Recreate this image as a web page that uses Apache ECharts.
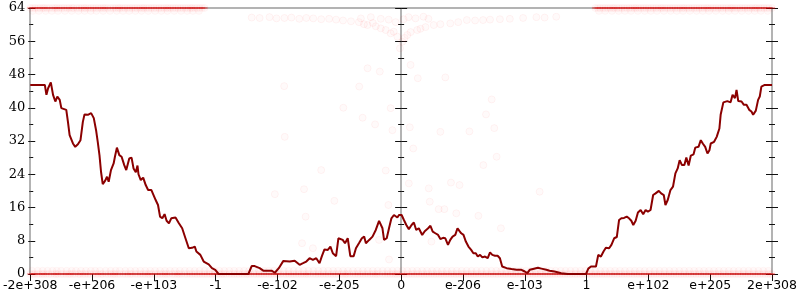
<!DOCTYPE html>
<html><head><meta charset="utf-8">
<script src="https://cdn.jsdelivr.net/npm/echarts@6/dist/echarts.min.js"></script>
<style>html,body{margin:0;padding:0;background:#fff}#c{width:800px;height:300px}</style>
</head><body><div id="c"></div>
<script>
// Tick labels of the custom float64 x axis (one per integer position -6..6)
const xTickLabels = ['-2e+308','-e+206','-e+103','-1','-e-102','-e-205','0','e-206','e-103','1','e+102','e+205','2e+308'];

// Dark red running line
const lineX = [-6,-5.764,-5.738,-5.711,-5.667,-5.631,-5.594,-5.562,-5.523,-5.497,-5.47,-5.417,-5.39,-5.363,-5.337,-5.309,-5.272,-5.229,-5.187,-5.149,-5.122,-5.068,-5.015,-4.972,-4.935,-4.908,-4.88,-4.855,-4.827,-4.79,-4.758,-4.731,-4.694,-4.651,-4.63,-4.598,-4.559,-4.522,-4.479,-4.447,-4.398,-4.361,-4.329,-4.292,-4.265,-4.249,-4.212,-4.173,-4.132,-4.093,-4.04,-3.971,-3.933,-3.9,-3.863,-3.827,-3.794,-3.756,-3.719,-3.65,-3.595,-3.542,-3.489,-3.435,-3.382,-3.338,-3.312,-3.248,-3.194,-3.113,-3.06,-3.007,-2.953,-2.471,-2.418,-2.369,-2.289,-2.23,-2.096,-2.043,-1.979,-1.908,-1.802,-1.722,-1.642,-1.587,-1.534,-1.481,-1.427,-1.373,-1.32,-1.282,-1.24,-1.186,-1.144,-1.105,-1.052,-1.015,-0.945,-0.908,-0.864,-0.822,-0.768,-0.731,-0.678,-0.635,-0.598,-0.57,-0.517,-0.463,-0.41,-0.357,-0.302,-0.276,-0.233,-0.196,-0.157,-0.116,-0.061,-0.035,0.008,0.045,0.084,0.125,0.169,0.206,0.244,0.286,0.341,0.382,0.437,0.474,0.511,0.554,0.598,0.635,0.678,0.715,0.758,0.795,0.832,0.876,0.912,0.945,0.972,1.009,1.047,1.089,1.133,1.169,1.208,1.24,1.277,1.314,1.357,1.401,1.438,1.475,1.518,1.561,1.598,1.635,1.706,1.786,1.867,1.947,2.0,2.043,2.08,2.133,2.214,2.268,2.349,2.402,2.482,2.59,2.696,2.991,3.028,3.071,3.152,3.189,3.232,3.274,3.312,3.365,3.402,3.446,3.489,3.526,3.563,3.606,3.65,3.687,3.724,3.756,3.794,3.831,3.875,3.916,3.955,3.992,4.035,4.077,4.116,4.169,4.206,4.249,4.276,4.313,4.357,4.398,4.437,4.474,4.506,4.543,4.582,4.614,4.651,4.687,4.731,4.758,4.811,4.848,4.88,4.919,4.956,4.988,5.009,5.063,5.105,5.149,5.169,5.213,5.277,5.33,5.362,5.401,5.426,5.454,5.507,5.545,5.587,5.631,5.667,5.695,5.738,5.775,5.802,5.828,5.883,6];
const lineY = [45.5,45.5,43.1,44.7,46.1,43.1,41.5,42.7,41.9,39.9,39.5,39.5,36.6,33.4,33.4,31.4,30.6,31.2,32.2,36.6,38.4,38.3,38.7,37.5,34.6,31.8,28.6,24.6,21.6,22.4,23.4,22.2,25.0,26.6,28.2,30.4,28.6,28.2,26.2,25.0,27.8,28.0,25.4,24.5,26.1,24.0,22.6,23.2,21.4,20.2,20.2,17.8,16.6,13.8,13.4,14.4,12.8,12.2,13.4,13.6,12.2,11.0,8.6,6.2,6.3,6.6,5.4,4.6,3.0,2.3,1.4,1.0,0,0,1.9,1.9,1.4,0.8,0.8,0.3,1.4,3.1,3.0,3.2,2.2,2.6,3.0,3.8,3.4,3.8,2.6,4.3,5.9,5.8,6.6,5.0,4.3,8.6,8.2,7.4,8.6,4.3,4.3,6.2,7.5,8.6,9.0,7.4,8.2,9.0,10.6,12.8,11.0,8.2,8.6,11.0,13.4,14.2,13.6,14.2,14.2,13.0,11.8,10.8,11.8,12.4,10.6,11.0,9.4,10.3,11.0,11.6,10.2,9.8,9.4,8.4,8.7,8.6,7.0,8.2,9.0,9.4,11.0,10.3,9.8,9.4,7.8,6.6,5.8,5.0,5.0,4.2,4.6,4.0,4.2,3.8,5.2,4.6,4.4,4.4,3.8,1.8,1.4,1.2,1.0,1.0,0.6,0.2,1.0,1.2,1.5,1.3,1.0,0.8,0.6,0.2,0,0,1.3,1.8,1.8,4.6,4.2,5.4,6.3,6.2,7.0,8.6,8.9,13.0,13.4,13.5,13.8,13.4,12.8,11.8,12.8,14.8,15.4,14.4,15.4,15.0,15.4,19.0,19.4,20.0,19.4,19.0,16.6,17.8,20.2,21.0,24.2,25.4,27.4,26.2,26.2,28.0,26.1,28.5,28.8,30.4,30.6,32.2,31.4,30.6,29.0,29.8,31.4,31.8,33.0,35.0,38.3,41.3,41.6,41.3,43.1,42.3,44.3,41.6,41.5,40.7,40.7,39.5,39.1,38.3,39.3,41.9,42.7,45.1,45.5,45.5];

// Faint samples: dense band at 0
const bandZeroX = [-6,-5.96,-5.93,-5.89,-5.85,-5.81,-5.78,-5.74,-5.7,-5.66,-5.61,-5.58,-5.55,-5.5,-5.46,-5.42,-5.38,-5.35,-5.31,-5.27,-5.22,-5.19,-5.15,-5.11,-5.07,-5.03,-4.98,-4.94,-4.9,-4.86,-4.83,-4.78,-4.74,-4.7,-4.66,-4.63,-4.59,-4.55,-4.5,-4.46,-4.42,-4.38,-4.35,-4.3,-4.26,-4.22,-4.18,-4.14,-4.1,-4.07,-4.03,-3.98,-3.94,-3.9,-3.86,-3.82,-3.79,-3.75,-3.7,-3.66,-3.62,-3.59,-3.55,-3.5,-3.46,-3.42,-3.38,-3.34,-3.3,-3.26,-3.22,-3.18,-3.14,-3.1,-3.06,-3.02,-2.98,-2.94,-2.9,-2.87,-2.83,-2.78,-2.74,-2.7,-2.66,-2.62,-2.58,-2.54,-2.5,-2.47,-2.43,-2.38,-2.34,-2.3,-2.26,-2.22,-2.18,-2.14,-2.1,-2.06,-2.02,-1.99,-1.95,-1.9,-1.86,-1.82,-1.78,-1.74,-1.7,-1.66,-1.62,-1.58,-1.54,-1.51,-1.47,-1.42,-1.38,-1.34,-1.3,-1.26,-1.22,-1.18,-1.14,-1.1,-1.06,-1.02,-0.98,-0.94,-0.9,-0.87,-0.83,-0.78,-0.74,-0.7,-0.66,-0.62,-0.58,-0.54,-0.5,-0.46,-0.42,-0.39,-0.35,-0.3,-0.26,-0.22,-0.18,-0.14,-0.1,-0.07,-0.03,0.01,0.05,0.09,0.13,0.17,0.21,0.25,0.29,0.33,0.37,0.41,0.45,0.49,0.53,0.57,0.61,0.65,0.69,0.73,0.77,0.81,0.85,0.89,0.93,0.97,1.01,1.05,1.09,1.13,1.17,1.21,1.25,1.29,1.33,1.37,1.41,1.45,1.49,1.53,1.57,1.61,1.65,1.69,1.73,1.77,1.81,1.85,1.89,1.93,1.97,2.01,2.05,2.09,2.13,2.17,2.21,2.25,2.29,2.33,2.37,2.41,2.45,2.49,2.53,2.57,2.61,2.65,2.69,2.73,2.77,2.81,2.85,2.89,2.93,2.97,3.01,3.05,3.09,3.13,3.17,3.21,3.25,3.29,3.33,3.37,3.41,3.45,3.49,3.53,3.57,3.61,3.65,3.69,3.73,3.77,3.81,3.85,3.89,3.93,3.97,4.01,4.05,4.09,4.13,4.17,4.21,4.25,4.29,4.33,4.37,4.41,4.45,4.49,4.53,4.57,4.61,4.65,4.69,4.73,4.77,4.81,4.85,4.89,4.93,4.97,5.01,5.05,5.09,5.13,5.17,5.21,5.25,5.29,5.33,5.37,5.41,5.45,5.49,5.53,5.57,5.61,5.65,5.69,5.73,5.77,5.81,5.85,5.89,5.93,5.97,6];
// samples just above 0
const bandLowX = [-5.97,-5.88,-5.8,-5.72,-5.64,-5.57,-5.5,-5.41,-5.33,-5.26,-5.18,-5.1,-5.02,-4.95,-4.87,-4.78,-4.7,-4.62,-4.55,-4.46,-4.38,-4.3,-4.22,-4.14,-4.06,-3.98,-3.9,-3.82,-3.74,-3.66,-3.58,-3.5,-3.42,-3.34,-3.26,-3.18,-3.1,-3.02,-2.94,-2.86,-2.78,-2.7,-2.62,-2.54,-2.46,-2.38,-2.3,-2.22,-2.14,-2.06,-1.98,-1.9,-1.82,-1.74,-1.66,-1.58,-1.5,-1.42,-1.34,-1.26,-1.18,-1.1,-1.02,-0.94,-0.86,-0.78,-0.7,-0.62,-0.54,-0.46,-0.38,-0.3,-0.22,-0.14,-0.06,0.02,0.1,0.18,0.26,0.34,0.42,0.5,0.58,0.66,0.74,0.82,0.9,0.98,1.06,1.14,1.22,1.3,1.38,1.46,1.54,1.62,1.7,1.78,1.86,1.94,2.02,2.1,2.18,2.26,2.34,2.42,2.5,2.58,2.66,2.74,2.82,2.9,2.98,3.06,3.14,3.22,3.3,3.38,3.46,3.54,3.62,3.7,3.78,3.86,3.94,4.02,4.1,4.18,4.26,4.34,4.42,4.5,4.58,4.66,4.74,4.82,4.9,4.98,5.06,5.14,5.22,5.3,5.38,5.46,5.54,5.62,5.7,5.78,5.86,5.94];
const bandLowY = 0.8;
// dense band at 64
const bandTopX = [-6,-5.96,-5.92,-5.88,-5.84,-5.8,-5.77,-5.73,-5.69,-5.64,-5.6,-5.57,-5.53,-5.49,-5.45,-5.41,-5.37,-5.33,-5.3,-5.25,-5.21,-5.17,-5.13,-5.1,-5.06,-5.02,-4.98,-4.94,-4.9,-4.86,-4.82,-4.79,-4.75,-4.7,-4.66,-4.62,-4.58,-4.55,-4.51,-4.47,-4.43,-4.39,-4.35,-4.31,-4.27,-4.23,-4.19,-4.16,-4.12,-4.08,-4.04,-4.0,-3.96,-3.92,-3.88,-3.84,-3.8,-3.77,-3.73,-3.69,-3.65,-3.61,-3.57,-3.53,-3.49,-3.45,-3.41,-3.38,-3.34,-3.3,-3.26,-3.22,-3.18,3.14,3.18,3.22,3.26,3.3,3.34,3.38,3.42,3.45,3.49,3.53,3.57,3.61,3.65,3.69,3.73,3.77,3.8,3.84,3.88,3.92,3.96,4.0,4.04,4.08,4.12,4.16,4.2,4.23,4.27,4.31,4.35,4.39,4.43,4.47,4.51,4.55,4.58,4.62,4.66,4.7,4.74,4.78,4.82,4.86,4.9,4.94,4.97,5.01,5.05,5.09,5.13,5.17,5.21,5.25,5.29,5.33,5.36,5.4,5.44,5.48,5.52,5.56,5.6,5.64,5.68,5.72,5.75,5.79,5.83,5.87,5.91,5.95,6];
const bandTopLowX = [-5.96,-5.86,-5.75,-5.65,-5.55,-5.44,-5.33,-5.22,-5.12,-5.02,-4.93,-4.82,-4.71,-4.6,-4.5,-4.4,-4.3,-4.2,-4.09,-3.98,-3.88,-3.78,-3.67,-3.56,-3.46,-3.37,-3.27,3.2,3.3,3.41,3.52,3.62,3.72,3.83,3.94,4.04,4.14,4.25,4.36,4.46,4.56,4.67,4.78,4.88,4.98,5.09,5.2,5.3,5.4,5.51,5.62,5.72,5.82,5.93];
const bandTopLowY = 63.3;
// fan of samples near the top centre
const fanX = [-2.418,-2.289,-2.129,-2.016,-1.888,-1.775,-1.647,-1.534,-1.422,-1.293,-1.165,-1.052,-0.94,-0.811,-0.683,-0.602,-0.543,-0.458,-0.41,-0.329,-0.249,-0.169,-0.12,-0.061,-0.019,-0.651,-0.49,-0.329,-0.201,-0.088,0.019,0.056,0.1,0.153,0.26,0.313,0.394,0.527,0.635,0.795,0.924,1.063,1.197,1.325,1.438,1.598,1.759,1.973,2.188,2.321,2.509,0.04,0.12,0.233,0.361,0.442];
const fanY = [61.7,61.6,61.8,61.5,61.6,61.7,61.4,61.6,61.5,61.3,61.4,61.2,61.0,60.8,60.6,60.1,59.9,60.4,59.6,59.1,58.7,57.9,58.3,57.1,54.3,61.5,61.8,61.4,61.2,60.6,55.9,56.8,57.5,58.2,58.7,59.0,59.4,59.9,60.1,60.3,60.6,61.1,61.0,61.1,61.2,61.3,61.4,61.6,61.8,61.7,61.9,61.3,61.8,61.5,61.9,61.4];
// sparse samples in the middle
const sparseX = [-0.543,-0.345,-1.892,-0.678,-0.935,-0.169,-0.623,-0.421,-0.141,-1.883,0.153,0.27,0.715,1.465,1.373,0.141,0.635,1.105,1.507,0.196,-2.043,-1.571,-1.293,-1.08,-1.545,-1.603,-1.427,-0.249,-0.196,-0.357,-0.206,1.545,1.33,0.125,0.447,0.806,0.945,2.241,0.463,0.607,0.699,0.892,1.25,1.614,0.49];
const sparseY = [49.5,48.7,45.2,45.1,40.0,39.9,37.6,36.0,34.6,33.0,50.3,47.1,47.3,42.0,38.4,35.3,34.2,34.3,35.1,30.2,19.2,20.4,25.0,17.6,13.8,7.4,6.2,24.9,3.5,8.2,16.6,28.2,26.2,21.8,20.6,22.0,21.4,19.8,17.4,15.6,15.6,14.6,14.0,11.0,7.8];

const bands = [].concat(
  bandZeroX.map(x => [x, 0]),
  bandLowX.map(x => [x, bandLowY]),
  bandTopX.map(x => [x, 64]),
  bandTopLowX.map(x => [x, bandTopLowY])
);
const loose = [].concat(
  fanX.map((x, i) => [x, fanY[i]]),
  sparseX.map((x, i) => [x, sparseY[i]])
);
const core = [].concat(bandZeroX.map(x => [x, 0]), bandTopX.map(x => [x, 64]));
const lineData = lineX.map((x, i) => [x, lineY[i]]);

const AX = '#b3b3b3', TK = '#111';
function yAx(o) {
  return Object.assign({
    type: 'value', min: 0, max: 64, interval: 8,
    axisLine: { show: false, onZero: false },
    axisLabel: { show: false },
    splitLine: { show: false },
    axisTick: { show: true, length: 5, lineStyle: { color: TK, width: 1 } },
    minorTick: { show: true, splitNumber: 2, length: 3, lineStyle: { color: TK, width: 1 } }
  }, o);
}
const chart = echarts.init(document.getElementById('c'), null, { renderer: 'canvas' });
chart.setOption({
  animation: false,
  backgroundColor: '#fff',
  grid: { left: 28, right: 26, top: 8, bottom: 26, containLabel: false },
  xAxis: [
    { type: 'value', min: -6, max: 6, interval: 1, position: 'bottom',
      axisLine: { show: true, onZero: false, lineStyle: { color: AX, width: 2 } },
      axisTick: { show: true, length: 7, lineStyle: { color: TK } },
      splitLine: { show: false },
      axisLabel: { margin: 5, color: '#000', fontFamily: 'DejaVu Sans', fontSize: 12.5,
        formatter: v => xTickLabels[Math.round(v) + 6] } },
    { type: 'value', min: -6, max: 6, interval: 1, position: 'top',
      axisLine: { show: true, onZero: false, lineStyle: { color: AX, width: 2 } },
      axisTick: { show: false }, axisLabel: { show: false }, splitLine: { show: false } }
  ],
  yAxis: [
    yAx({ position: 'left',
      axisLine: { show: true, onZero: false, lineStyle: { color: AX, width: 2 } },
      axisTick: { show: true, length: 2, lineStyle: { color: TK } },
      minorTick: { show: true, splitNumber: 2, length: 1, lineStyle: { color: TK } },
      axisLabel: { show: true, margin: 5, color: '#000', fontFamily: 'DejaVu Serif', fontSize: 13 } }),
    yAx({ position: 'left', axisTick: { show: true, inside: true, length: 5, lineStyle: { color: TK } } }),
    yAx({ position: 'right',
      axisLine: { show: true, onZero: false, lineStyle: { color: AX, width: 2 } },
      axisTick: { show: true, length: 6, lineStyle: { color: TK } } }),
    yAx({ position: 'right', axisTick: { show: true, inside: true, length: 6, lineStyle: { color: TK } } }),
    yAx({ position: 'left',
      axisLine: { show: true, onZero: true, lineStyle: { color: AX, width: 2 } },
      axisTick: { show: true, length: 6, lineStyle: { color: TK } } }),
    yAx({ position: 'right',
      axisLine: { show: false, onZero: true },
      axisTick: { show: true, length: 6, lineStyle: { color: TK } } })
  ],
  series: [
    { type: 'scatter', xAxisIndex: 0, yAxisIndex: 0, data: bands, symbol: 'circle', symbolSize: 7,
      itemStyle: { color: 'rgba(255,0,0,0.03)', borderColor: 'rgba(255,0,0,0.04)', borderWidth: 1 },
      silent: true, clip: false, large: false },
    { type: 'scatter', xAxisIndex: 0, yAxisIndex: 0, data: loose, symbol: 'circle', symbolSize: 7,
      itemStyle: { color: 'rgba(255,0,0,0.025)', borderColor: 'rgba(255,0,0,0.06)', borderWidth: 1 },
      silent: true, clip: false },
    { type: 'scatter', xAxisIndex: 0, yAxisIndex: 0, data: core, symbol: 'rect', symbolSize: [6, 2],
      itemStyle: { color: 'rgba(230,0,0,0.4)' }, silent: true, clip: false },
    { type: 'line', xAxisIndex: 0, yAxisIndex: 0, data: lineData, showSymbol: false,
      lineStyle: { color: '#8b0000', width: 2 }, silent: true }
  ]
});
</script></body></html>
